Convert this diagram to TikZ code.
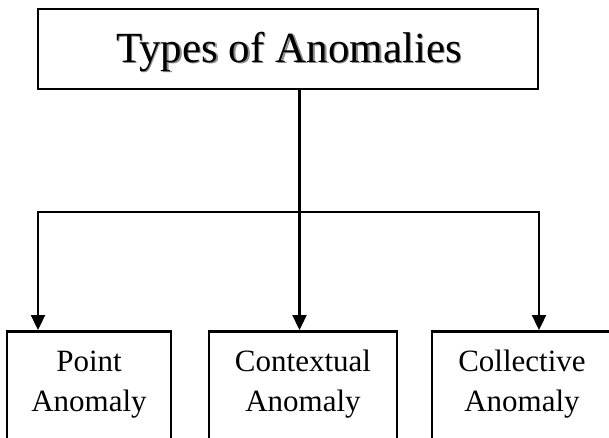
\documentclass[tikz,border=0pt]{standalone}
\usepackage{fontspec}
\setmainfont{Liberation Serif}
\usetikzlibrary{arrows.meta}
\begin{document}
\begin{tikzpicture}[x=1pt,y=-1pt,
  boxline/.style={draw=black, line width=2.5pt, inner sep=0pt},
  conn/.style={draw=black, line width=2.3pt},
  arr/.style={conn, -{Triangle[length=15pt,width=14pt]}},
  titlefont/.style={font=\fontsize{43}{50}\selectfont, inner sep=0pt},
  lbl/.style={font=\fontsize{31}{40}\selectfont, inner sep=0pt, anchor=base}]
\useasboundingbox (0,0) rectangle (609,437);
\clip (0,0) rectangle (609,437);
% top box
\node[boxline, minimum width=500pt, minimum height=80pt] (top) at (288,49) {};
\node[titlefont, anchor=base, text=black!45] (titleshadow) at (290.5,63.5) {Types of Anomalies};
\node[titlefont, anchor=base] (title) at (289,62) {Types of Anomalies};
% bottom boxes
\node[boxline, anchor=north, minimum width=164pt, minimum height=150pt] (pb) at (89,330) {};
\node[boxline, anchor=north, minimum width=188pt, minimum height=150pt] (cb) at (303,330) {};
\node[boxline, anchor=north, minimum width=180pt, minimum height=150pt] (kb) at (522,330) {};
% labels
\node[lbl] (p1) at (89,371) {Point};
\node[lbl] (p2) at (89,411.7) {Anomaly};
\node[lbl] (c1) at (303,371) {Contextual};
\node[lbl] (c2) at (303,411.7) {Anomaly};
\node[lbl] (k1) at (522,371) {Collective};
\node[lbl] (k2) at (522,411.7) {Anomaly};
% connectors
\coordinate (jl) at (38,212);
\coordinate (jm) at (299.5,212);
\coordinate (jr) at (539,212);
\draw[conn, line cap=rect] (jl) -- (jr);
\draw[arr] (top.south -| jm) -- (jm |- cb.north);
\draw[arr] (jl) -- (jl |- pb.north);
\draw[arr] (jr) -- (jr |- kb.north);
\end{tikzpicture}
\end{document}
